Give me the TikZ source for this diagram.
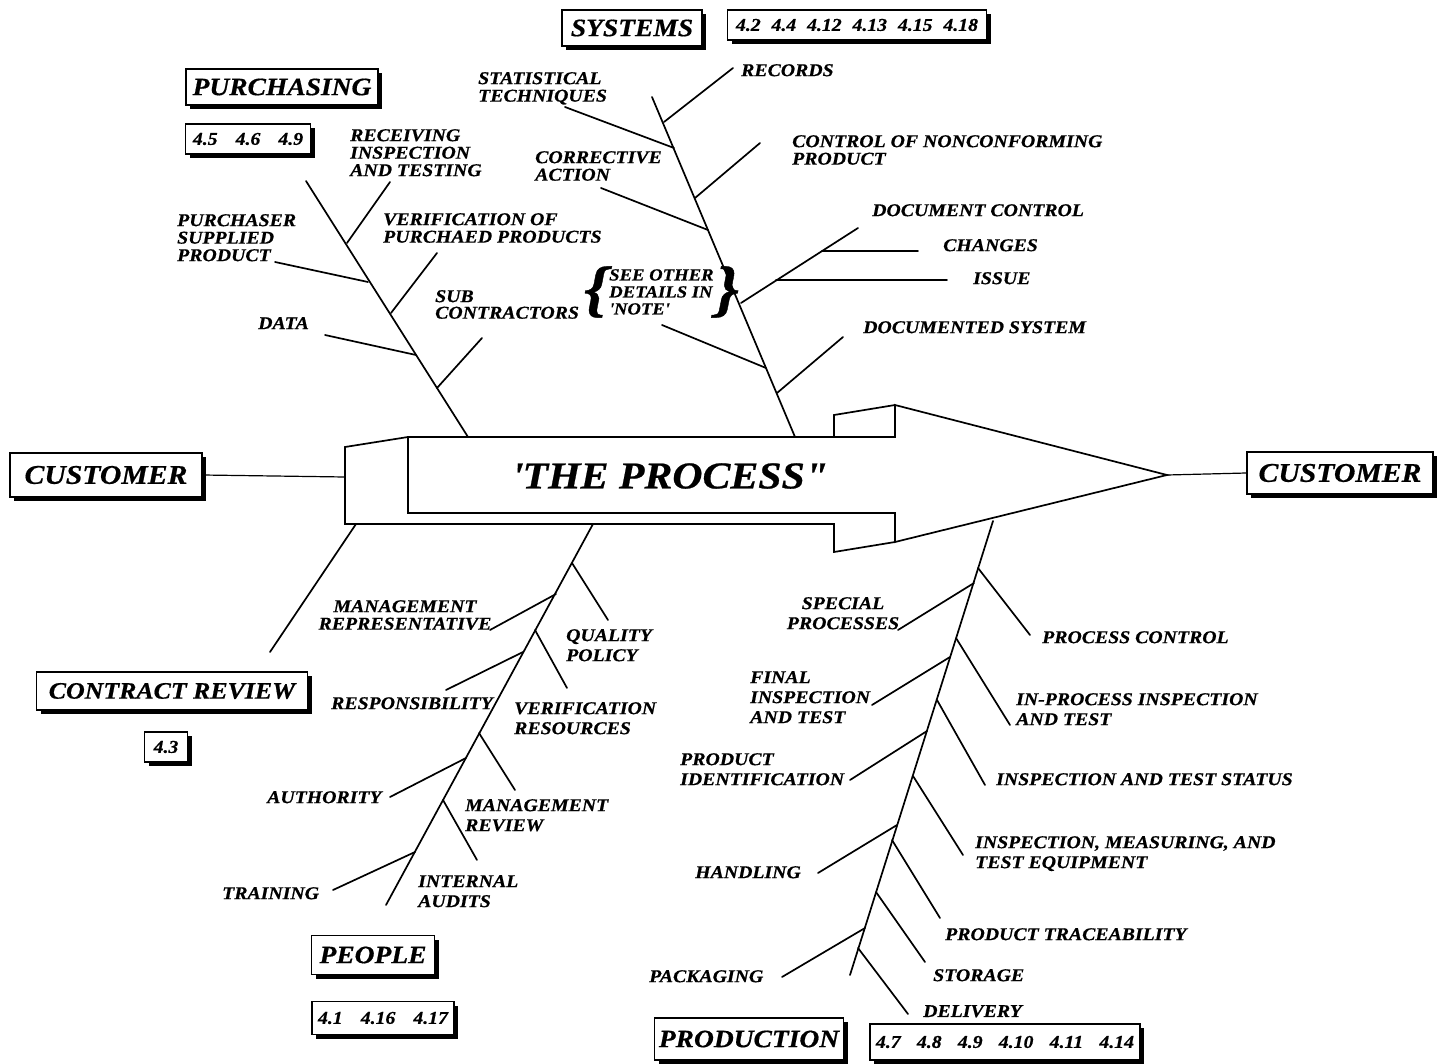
\documentclass[tikz,border=0pt]{standalone}
\usepackage{fontspec}
\newfontfamily\bif[FakeStretch=1.1,BoldItalicFeatures={FakeBold=0.6}]{Liberation Serif}
\usetikzlibrary{shadows}
\newcommand\labfont{\fontsize{18}{17.5}\selectfont\bif\bfseries\itshape}
\newcommand\labfontb{\fontsize{18}{20}\selectfont\bif\bfseries\itshape}
\newcommand\labtight{\fontsize{18}{16.5}\selectfont\bif\bfseries\itshape}
\newcommand\headfont{\fontsize{25}{28}\selectfont\bif\bfseries\itshape}
\newcommand\custfont{\fontsize{27}{30}\selectfont\bif\bfseries\itshape}
\newcommand\crfont{\fontsize{23.5}{26}\selectfont\bif\bfseries\itshape}
\newcommand\titlefont{\fontsize{38}{40}\selectfont\bif\bfseries\itshape}
\newcommand\bracefont{\fontsize{62}{62}\selectfont\bif\bfseries\itshape}
\begin{document}
\begin{tikzpicture}[x=1pt,y=-1pt,
  line/.style={line width=1.7pt, line cap=round},
  aline/.style={line width=1.7pt, line join=miter},
  thin/.style={line width=1.2pt},
  lab/.style={font=\labfont, inner sep=0pt, align=left, anchor=north west},
  labb/.style={font=\labfontb, inner sep=0pt, align=left, anchor=north west},
  hbox/.style={draw, line width=1.3pt, fill=white, font=\headfont, inner sep=0pt,
    drop shadow={shadow xshift=4pt, shadow yshift=-4pt, fill=black, opacity=1}},
  nbox/.style={hbox, font=\labfont}]
\fill[white] (0,0) rectangle (1439,1064);
\useasboundingbox (0,0) rectangle (1439,1064);

% ---------- heading boxes ----------
\node[hbox, minimum width=140pt, minimum height=36pt] (sys) at (632,28) {SYSTEMS};
\node[nbox, minimum width=259pt, minimum height=30pt] (sysn) at (857,25) {4.2\hspace{0.6em}4.4\hspace{0.6em}4.12\hspace{0.6em}4.13\hspace{0.6em}4.15\hspace{0.6em}4.18};
\node[hbox, minimum width=192pt, minimum height=36pt] (pur) at (282,87) {PURCHASING};
\node[nbox, minimum width=125pt, minimum height=30pt] (purn) at (248,139) {4.5\hspace{1em}4.6\hspace{1em}4.9};
\node[hbox, font=\custfont, minimum width=192pt, minimum height=44pt] (cusL) at (106,475) {CUSTOMER};
\node[hbox, font=\custfont, minimum width=186pt, minimum height=42pt] (cusR) at (1340,473) {CUSTOMER};
\node[hbox, font=\crfont, minimum width=271pt, minimum height=38pt] (cr) at (172,691) {CONTRACT REVIEW};
\node[nbox, minimum width=43pt, minimum height=30pt] (crn) at (166,747) {4.3};
\node[hbox, minimum width=123pt, minimum height=39pt] (peo) at (373,955) {PEOPLE};
\node[nbox, minimum width=142pt, minimum height=33pt] (peon) at (383,1018) {4.1\hspace{1em}4.16\hspace{1em}4.17};
\node[hbox, minimum width=189pt, minimum height=42pt] (prod) at (749,1039) {PRODUCTION};
\node[nbox, minimum width=270pt, minimum height=36pt] (prodn) at (1005,1042) {4.7\hspace{0.9em}4.8\hspace{0.9em}4.9\hspace{0.9em}4.10\hspace{0.9em}4.11\hspace{0.9em}4.14};

% ---------- the process arrow ----------
\coordinate (arrL) at (345,477);
\coordinate (tip) at (1167,475);
\draw[aline] (408,437) -- (345,447) -- (345,524) -- (834,524) -- (834,552) -- (895,542);
\draw[aline] (408,437) -- (895,437) -- (895,405) -- (tip) -- (895,542) -- (895,513) -- (408,513) -- cycle;
\draw[aline] (834,437) -- (834,415) -- (895,405);
\node[font=\titlefont, inner sep=0pt] (proc) at (670,476) {\textquotesingle THE PROCESS"};
\draw[thin] (cusL.east) -- (arrL);
\draw[thin] (tip) -- (cusR.west);

% ---------- purchasing bone ----------
\coordinate (pA) at (306,181); \coordinate (pB) at (468,437);
\draw[line] (pA) -- (pB);
\coordinate (r1) at (390,182); \coordinate (r2) at (347,243);
\coordinate (ps1) at (275,262); \coordinate (ps2) at (368,282);
\coordinate (v1) at (437,253); \coordinate (v2) at (391,313);
\coordinate (d1) at (325,335); \coordinate (d2) at (416,355);
\coordinate (sc1) at (482,338); \coordinate (sc2) at (437,388);
\draw[line] (r1) -- (r2);
\draw[line] (ps1) -- (ps2);
\draw[line] (v1) -- (v2);
\draw[line] (d1) -- (d2);
\draw[line] (sc1) -- (sc2);
\node[lab] (rcvl) at (350,129) {RECEIVING\\INSPECTION\\AND TESTING};
\node[lab] (psl) at (177,214) {PURCHASER\\SUPPLIED\\PRODUCT};
\node[lab] (vpl) at (383,213) {VERIFICATION OF\\PURCHAED PRODUCTS};
\node[lab] (datl) at (258,317) {DATA};
\node[lab, font=\labtight] (subl) at (435,290) {SUB\\CONTRACTORS};

% ---------- systems bone ----------
\coordinate (sA) at (652,97); \coordinate (sB) at (795,437);
\draw[line] (sA) -- (sB);
\coordinate (rc1) at (733,68); \coordinate (rc2) at (664,122);
\coordinate (st1) at (565,107); \coordinate (st2) at (674,148);
\coordinate (cn1) at (760,143); \coordinate (cn2) at (695,198);
\coordinate (ca1) at (601,188); \coordinate (ca2) at (708,230);
\coordinate (dc1) at (858,228); \coordinate (dc2) at (741,303);
\coordinate (ch1) at (822,251); \coordinate (ch2) at (918,251);
\coordinate (is1) at (776,280); \coordinate (is2) at (947,280);
\coordinate (so1) at (662,325); \coordinate (so2) at (766,368);
\coordinate (ds1) at (843,337); \coordinate (ds2) at (777,393);
\draw[line] (rc1) -- (rc2);
\draw[line] (st1) -- (st2);
\draw[line] (cn1) -- (cn2);
\draw[line] (ca1) -- (ca2);
\draw[line] (dc1) -- (dc2);
\draw[line] (ch1) -- (ch2);
\draw[line] (is1) -- (is2);
\draw[line] (so1) -- (so2);
\draw[line] (ds1) -- (ds2);
\node[lab] (statl) at (478,72) {STATISTICAL\\TECHNIQUES};
\node[lab] (recl) at (741,64) {RECORDS};
\node[lab] (cnpl) at (792,135) {CONTROL OF NONCONFORMING\\PRODUCT};
\node[lab] (cal) at (535,151) {CORRECTIVE\\ACTION};
\node[lab] (dcl) at (872,204) {DOCUMENT CONTROL};
\node[lab] (chl) at (943,239) {CHANGES};
\node[lab] (isl) at (973,272) {ISSUE};
\node[lab] (dsl) at (863,321) {DOCUMENTED SYSTEM};
\node[lab, font=\fontsize{17}{17}\selectfont\bif\bfseries\itshape] (seel) at (609,269) {SEE OTHER\\DETAILS IN\\\textquotesingle NOTE\textquotesingle};
\node[font=\bracefont, inner sep=0pt, anchor=east] (lbr) at (608,292) {\{};
\node[font=\bracefont, inner sep=0pt, anchor=west] (rbr) at (715,292) {\}};

% ---------- contract review ----------
\coordinate (cr1) at (356,524); \coordinate (cr2) at (270,652);
\draw[line] (cr1) -- (cr2);

% ---------- people bone ----------
\coordinate (qA) at (593,524); \coordinate (qB) at (386,905);
\draw[line] (qA) -- (qB);
\coordinate (qp1) at (572,563); \coordinate (qp2) at (608,620);
\coordinate (mr1) at (490,630); \coordinate (mr2) at (556,594);
\coordinate (vr1) at (535,630); \coordinate (vr2) at (567,688);
\coordinate (rs1) at (446,690); \coordinate (rs2) at (523,652);
\coordinate (mv1) at (479,733); \coordinate (mv2) at (515,790);
\coordinate (au1) at (390,797); \coordinate (au2) at (466,758);
\coordinate (ia1) at (443,800); \coordinate (ia2) at (477,860);
\coordinate (tr1) at (333,890); \coordinate (tr2) at (415,852);
\draw[line] (qp1) -- (qp2);
\draw[line] (mr1) -- (mr2);
\draw[line] (vr1) -- (vr2);
\draw[line] (rs1) -- (rs2);
\draw[line] (mv1) -- (mv2);
\draw[line] (au1) -- (au2);
\draw[line] (ia1) -- (ia2);
\draw[line] (tr1) -- (tr2);
\node[lab, align=center, anchor=north] (mrl) at (405,600) {MANAGEMENT\\REPRESENTATIVE};
\node[labb] (qpl) at (566,629) {QUALITY\\POLICY};
\node[lab] (rsl) at (331,697) {RESPONSIBILITY};
\node[labb] (vrl) at (514,702) {VERIFICATION\\RESOURCES};
\node[lab] (aul) at (267,791) {AUTHORITY};
\node[labb] (mvl) at (465,799) {MANAGEMENT\\REVIEW};
\node[lab] (trl) at (222,887) {TRAINING};
\node[labb] (ial) at (418,875) {INTERNAL\\AUDITS};

% ---------- production bone ----------
\coordinate (wA) at (993,521); \coordinate (wB) at (850,975);
\draw[line] (wA) -- (wB);
\coordinate (sp1) at (898,630); \coordinate (sp2) at (974,583);
\coordinate (pc1) at (978,568); \coordinate (pc2) at (1030,635);
\coordinate (fi1) at (872,705); \coordinate (fi2) at (950,657);
\coordinate (ip1) at (956,638); \coordinate (ip2) at (1010,725);
\coordinate (pi1) at (850,780); \coordinate (pi2) at (927,731);
\coordinate (ts1) at (937,700); \coordinate (ts2) at (985,785);
\coordinate (hd1) at (818,873); \coordinate (hd2) at (897,825);
\coordinate (me1) at (913,776); \coordinate (me2) at (963,855);
\coordinate (pt1) at (892,840); \coordinate (pt2) at (940,918);
\coordinate (sg1) at (876,892); \coordinate (sg2) at (925,962);
\coordinate (pk1) at (782,977); \coordinate (pk2) at (865,928);
\coordinate (dl1) at (858,948); \coordinate (dl2) at (908,1014);
\draw[line] (sp1) -- (sp2);
\draw[line] (pc1) -- (pc2);
\draw[line] (fi1) -- (fi2);
\draw[line] (ip1) -- (ip2);
\draw[line] (pi1) -- (pi2);
\draw[line] (ts1) -- (ts2);
\draw[line] (hd1) -- (hd2);
\draw[line] (me1) -- (me2);
\draw[line] (pt1) -- (pt2);
\draw[line] (sg1) -- (sg2);
\draw[line] (pk1) -- (pk2);
\draw[line] (dl1) -- (dl2);
\node[labb, align=center, anchor=north] (spl) at (843,597) {SPECIAL\\PROCESSES};
\node[lab] (pcl) at (1042,631) {PROCESS CONTROL};
\node[labb] (fil) at (750,671) {FINAL\\INSPECTION\\AND TEST};
\node[labb] (ipl) at (1016,693) {IN-PROCESS INSPECTION\\AND TEST};
\node[labb] (pil) at (680,753) {PRODUCT\\IDENTIFICATION};
\node[lab] (tsl) at (996,773) {INSPECTION AND TEST STATUS};
\node[lab] (hdl) at (695,866) {HANDLING};
\node[labb] (mel) at (975,836) {INSPECTION, MEASURING, AND\\TEST EQUIPMENT};
\node[lab] (ptl) at (945,928) {PRODUCT TRACEABILITY};
\node[lab] (sgl) at (933,969) {STORAGE};
\node[lab] (pkl) at (649,970) {PACKAGING};
\node[lab] (dll) at (923,1005) {DELIVERY};
\end{tikzpicture}
\end{document}
